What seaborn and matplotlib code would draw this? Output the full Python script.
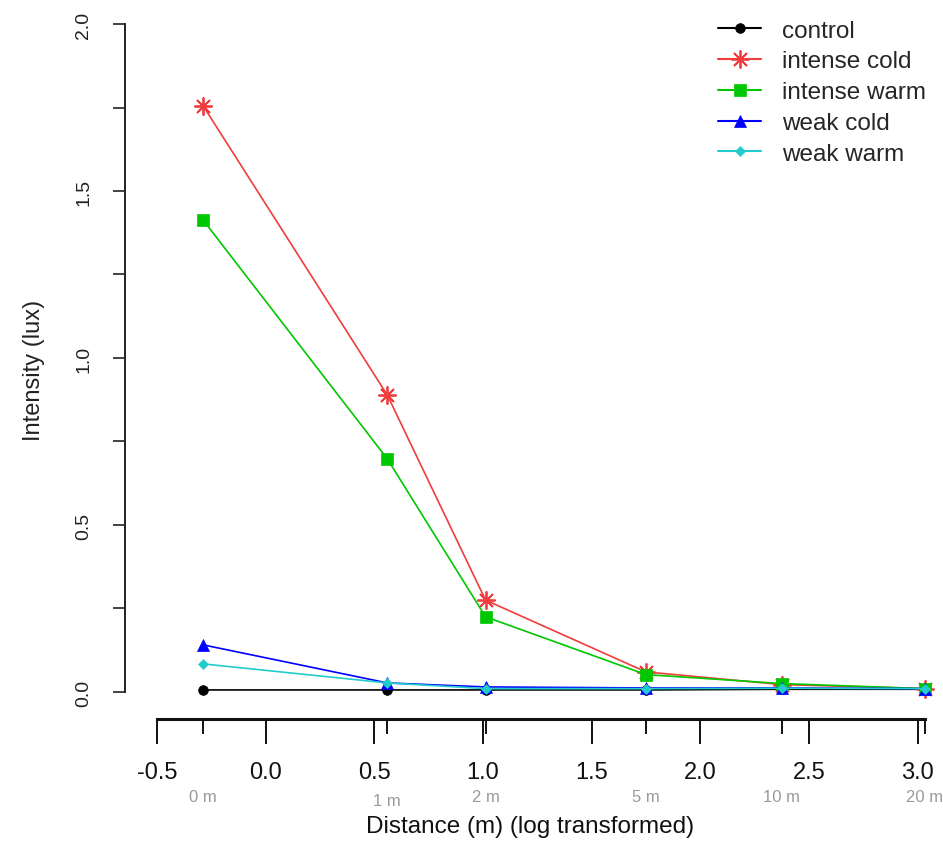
import numpy as np
import pandas as pd
import matplotlib
matplotlib.use('Agg')
import matplotlib.pyplot as plt
import matplotlib.transforms as mtransforms
import seaborn as sns

# distances in metres, plotted as ln(d + 0.75)
distances = [0, 1, 2, 5, 10, 20]
dist_labels = ['0 m', '1 m', '2 m', '5 m', '10 m', '20 m']

control = [0.006, 0.006, 0.006, 0.006, 0.008, 0.008]
intense_cold = [1.755, 0.889, 0.275, 0.060, 0.022, 0.010]
intense_warm = [1.413, 0.698, 0.225, 0.052, 0.025, 0.010]
weak_cold = [0.141, 0.027, 0.015, 0.012, 0.012, 0.010]
weak_warm = [0.084, 0.027, 0.010, 0.010, 0.011, 0.010]

series_names = ['control', 'intense cold', 'intense warm', 'weak cold', 'weak warm']
series_values = [control, intense_cold, intense_warm, weak_cold, weak_warm]
colors = ['#000000', '#F03C3C', '#00C800', '#0000FF', '#22CCCC']
markers = ['o', (8, 2, 0), 's', '^', 'D']
msizes = [7, 13, 8, 9, 5.5]

x_log = np.log(np.array(distances) + 0.75)

rows = []
for name, vals in zip(series_names, series_values):
    for xv, v in zip(x_log, vals):
        rows.append({'x': xv, 'intensity': v, 'treatment': name})
df = pd.DataFrame(rows)

sns.set_style('white')
plt.rcParams['font.family'] = ['Liberation Sans', 'DejaVu Sans']

fig = plt.figure(figsize=(9.43, 8.45), dpi=100)
ax = fig.add_axes([125 / 943, 1 - 720 / 845, (935 - 125) / 943, (720 - 20) / 845])

handles = []
for name, col, mk, ms in zip(series_names, colors, markers, msizes):
    sub = df[df['treatment'] == name]
    mew = 1.3 if name == 'intense cold' else 0.5
    sns.lineplot(data=sub, x='x', y='intensity', ax=ax, color=col, marker=mk,
                 markersize=ms, mec=col, mfc=col, mew=mew,
                 linewidth=1.2, legend=False)
    handles.append(plt.Line2D([], [], color=col, marker=mk, markersize=ms, mec=col, mfc=col,
                              mew=mew, linewidth=1.5))

ax.set_xlim(-0.647, 3.079)
ax.set_ylim(-0.081, 2.015)

for side in ['top', 'right']:
    ax.spines[side].set_visible(False)
ax.spines['left'].set_bounds(0, 2)
ax.spines['bottom'].set_bounds(-0.5, x_log[-1])
ax.spines['left'].set_linewidth(1.4)
ax.spines['bottom'].set_linewidth(2.2)
ax.spines['left'].set_color('#222222')
ax.spines['bottom'].set_color('#111111')

ax.set_yticks(np.arange(0, 2.01, 0.25))
ax.set_yticklabels(['0.0', '', '0.5', '', '1.0', '', '1.5', '', '2.0'],
                   rotation=90, va='center', fontsize=14, color='#222222')
ax.tick_params(axis='y', length=8.5, width=1.2, color='#222222', pad=15, left=True)

ax.set_xticks(np.arange(-0.5, 3.01, 0.5))
ax.set_xticklabels(['-0.5', '0.0', '0.5', '1.0', '1.5', '2.0', '2.5', '3.0'],
                   fontsize=17, color='#111111')
ax.tick_params(axis='x', length=18, width=1.4, color='#111111', pad=12, bottom=True)

# short ticks at the measured distances
ax.set_xticks(x_log, minor=True)
ax.tick_params(axis='x', which='minor', length=11, width=1.4, color='#111111', bottom=True)

trans = mtransforms.blended_transform_factory(ax.transData, fig.transFigure)
for xv, lab in zip(x_log, dist_labels):
    yoff = 0.051 if lab == '1 m' else 0.056
    ax.text(xv, yoff, lab, transform=trans, ha='center', va='center',
            fontsize=12, color='#9a9a9a')

ax.set_xlabel('Distance (m) (log transformed)', fontsize=17.5, color='#111111', labelpad=23)
ax.set_ylabel('Intensity (lux)', fontsize=17, color='#222222', labelpad=22)

ax.legend(handles, series_names, loc='upper left', bbox_to_anchor=(708 / 943, 1 - 11 / 845),
          bbox_transform=fig.transFigure, frameon=False, fontsize=17.5,
          handlelength=1.8, handletextpad=0.85, labelspacing=0.36, borderaxespad=0)

fig.savefig('out.png', dpi=100)
